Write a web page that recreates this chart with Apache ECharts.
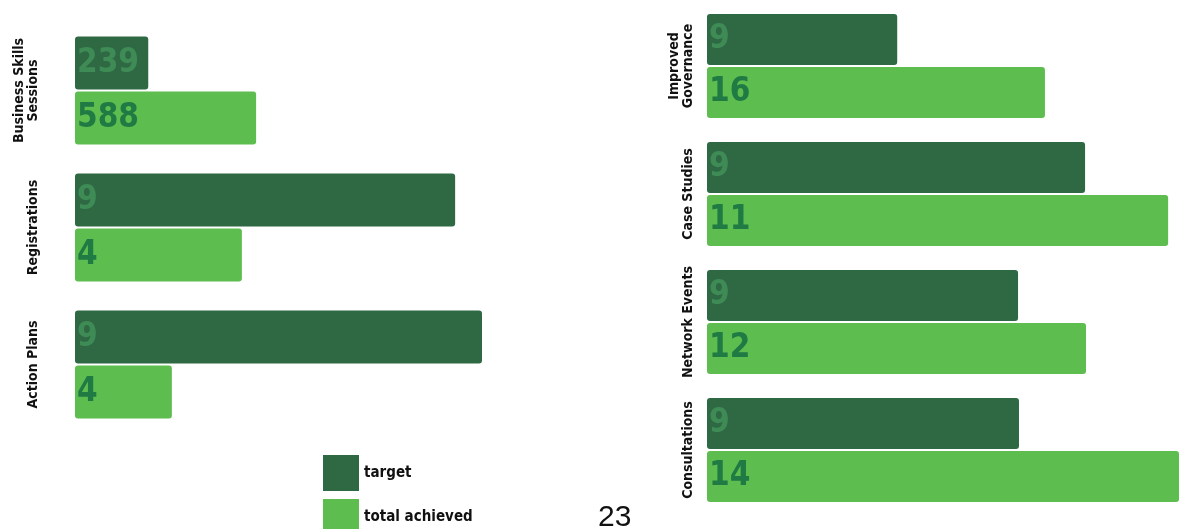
<!DOCTYPE html>
<html>
<head>
<meta charset="utf-8">
<script src="https://cdn.jsdelivr.net/npm/echarts@6/dist/echarts.min.js"></script>
<style>
html,body{margin:0;padding:0;background:#fff;}
#chart{width:1179px;height:529px;}
</style>
</head>
<body>
<div id="chart"></div>
<script>
// ---- Data ----
var leftCategories = ['Business Skills\nSessions', 'Registrations', 'Action Plans'];
var leftTargetLabels = ['239', '9', '9'];
var leftAchievedLabels = ['588', '4', '4'];
// bar lengths as drawn (relative scale 0-100)
var leftTargetLength = [18, 93.4, 100];
var leftAchievedLength = [44.5, 41, 23.8];

var rightCategories = ['Improved\nGovernance', 'Case Studies', 'Network Events', 'Consultations'];
var rightTargetLabels = ['9', '9', '9', '9'];
var rightAchievedLabels = ['16', '11', '12', '14'];
var rightTargetLength = [40.3, 80.1, 65.9, 66.1];
var rightAchievedLength = [71.6, 97.7, 80.3, 100];

var legendNames = ['target', 'total achieved'];
var pageNumber = '23';

// ---- Styles ----
var darkGreen = '#2e6944';
var lightGreen = '#5dbd4e';
var darkLabel = '#3f8b55';
var lightLabel = '#1f7a44';
var condensed = '"Liberation Sans Narrow", "DejaVu Sans Condensed", sans-serif';

function valueLabel(labels, color) {
  return {
    show: true,
    position: 'insideLeft',
    distance: 2,
    fontFamily: condensed,
    fontWeight: 'bold',
    fontSize: 33,
    color: color,
    formatter: function (p) { return labels[p.dataIndex]; }
  };
}

function legendBlock(name, top) {
  return {
    orient: 'vertical',
    left: 318, top: top,
    itemWidth: 36, itemHeight: 36,
    icon: 'rect',
    data: [name],
    textStyle: {fontFamily: condensed, fontWeight: 'bold', fontSize: 15, color: '#111', padding: [6, 0, 0, 0]}
  };
}

var catLabel = function (margin) {
  return {
    rotate: 90, margin: margin, interval: 0, color: '#111', fontFamily: condensed,
    fontWeight: 'bold', fontSize: 14, lineHeight: 14
  };
};

var chart = echarts.init(document.getElementById('chart'), null, {renderer: 'canvas'});
var option = {
  animation: false,
  backgroundColor: '#ffffff',
  grid: [
    {left: 75, top: 22, width: 407, height: 411},
    {left: 707, top: 2, width: 472, height: 512}
  ],
  xAxis: [
    {gridIndex: 0, type: 'value', min: 0, max: 100, show: false},
    {gridIndex: 1, type: 'value', min: 0, max: 100, show: false}
  ],
  yAxis: [
    {
      gridIndex: 0, type: 'category', data: leftCategories, inverse: true,
      axisLine: {show: false}, axisTick: {show: false}, splitLine: {show: false},
      axisLabel: catLabel(35)
    },
    {
      gridIndex: 1, type: 'category', data: rightCategories, inverse: true,
      axisLine: {show: false}, axisTick: {show: false}, splitLine: {show: false},
      axisLabel: catLabel(12)
    }
  ],
  legend: [legendBlock(legendNames[0], 450), legendBlock(legendNames[1], 494)],
  graphic: [{
    type: 'text', left: 598, top: 503,
    style: {text: pageNumber, font: '30px "Liberation Sans", Arial, sans-serif', fill: '#111'}
  }],
  series: [
    {
      name: legendNames[0], type: 'bar', xAxisIndex: 0, yAxisIndex: 0,
      data: leftTargetLength, barWidth: 53, barGap: '4%',
      itemStyle: {color: darkGreen, borderRadius: 3},
      label: valueLabel(leftTargetLabels, darkLabel)
    },
    {
      name: legendNames[1], type: 'bar', xAxisIndex: 0, yAxisIndex: 0,
      data: leftAchievedLength, barWidth: 53, barGap: '4%',
      itemStyle: {color: lightGreen, borderRadius: 3},
      label: valueLabel(leftAchievedLabels, lightLabel)
    },
    {
      name: legendNames[0], type: 'bar', xAxisIndex: 1, yAxisIndex: 1,
      data: rightTargetLength, barWidth: 51, barGap: '4%',
      itemStyle: {color: darkGreen, borderRadius: 3},
      label: valueLabel(rightTargetLabels, darkLabel)
    },
    {
      name: legendNames[1], type: 'bar', xAxisIndex: 1, yAxisIndex: 1,
      data: rightAchievedLength, barWidth: 51, barGap: '4%',
      itemStyle: {color: lightGreen, borderRadius: 3},
      label: valueLabel(rightAchievedLabels, lightLabel)
    }
  ]
};
chart.setOption(option);
</script>
</body>
</html>
